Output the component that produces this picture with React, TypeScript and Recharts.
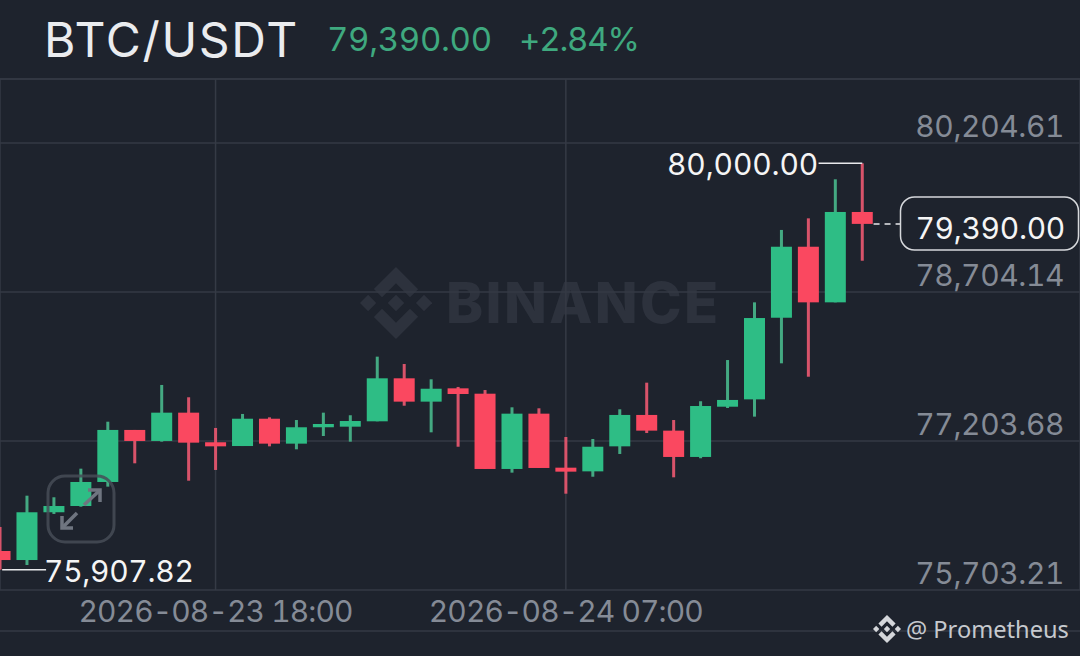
import React from "react";
import {
  Bar,
  CartesianGrid,
  ComposedChart,
  ReferenceLine,
  XAxis,
  YAxis,
} from "recharts";

const opens = [
  76096, 76005, 76486, 76549, 76791, 77315, 77204, 77489, 77191, 77153, 77428,
  77177, 77342, 77348, 77402, 77835, 77600, 77734, 77680, 76922, 77479, 76935,
  76898, 77150, 77466, 77308, 77043, 77549, 77623, 78445, 79160, 78600, 79510,
];
const closes = [
  76005, 76486, 76549, 76791, 77315, 77204, 77489, 77187, 77150, 77428, 77177,
  77342, 77375, 77405, 77835, 77600, 77730, 77677, 76922, 77479, 76932, 76895,
  77146, 77466, 77308, 77043, 77556, 77617, 78442, 79160, 78600, 79510, 79390,
];
const highs = [
  76338, 76653, 76637, 76925, 77398, 77315, 77768, 77644, 77335, 77476, 77442,
  77415, 77489, 77463, 78053, 77979, 77825, 77748, 77717, 77543, 77533, 77244,
  77224, 77523, 77791, 77415, 77604, 78019, 78600, 79329, 79446, 79839, 80000,
];
const lows = [
  75907.82, 75955, 76469, 76542, 76744, 76979, 77197, 76804, 76912, 77153, 77150,
  77120, 77254, 77197, 77402, 77559, 77291, 77146, 76922, 76885, 76932, 76673,
  76844, 77073, 77284, 76838, 77030, 77536, 77449, 77986, 77851, 78600, 79019,
];
const priceTicks = [75703.21, 77203.68, 78704.14, 80204.61];
const timeTicks = [8, 21];
const timeLabels = ["2026-08-23 18:00", "2026-08-24 07:00"];

const lastPrice = 79390;
const maxPrice = 80000;
const minPrice = 75907.82;

const data = opens.map((open, i) => ({
  index: i,
  open,
  close: closes[i],
  high: highs[i],
  low: lows[i],
  range: [lows[i], highs[i]],
}));

const BG = "#1e232d";
const GRID = "#353a45";
const UP = "#2ebd85";
const DOWN = "#fa4860";
const UP_WICK = "#44a982";
const DOWN_WICK = "#d8536a";
const FONT = "Inter, sans-serif";
const tabular: React.CSSProperties = { fontVariantNumeric: "tabular-nums" };

const fmt = (v: number) =>
  v.toLocaleString("en-US", { minimumFractionDigits: 2, maximumFractionDigits: 2 });

const Candle = (props: any) => {
  const { x, y, width, height, payload } = props;
  const { open, close, high, low } = payload;
  const up = close >= open;
  const perUnit = height / (high - low);
  const top = y + (high - Math.max(open, close)) * perUnit;
  const bottom = y + (high - Math.min(open, close)) * perUnit;
  const cx = x + width / 2;
  return (
    <g>
      <rect x={cx - 1.5} y={y} width={3} height={height} fill={up ? UP_WICK : DOWN_WICK} />
      <rect
        x={x}
        y={top}
        width={width}
        height={Math.max(bottom - top, 2)}
        fill={up ? UP : DOWN}
      />
    </g>
  );
};

const Logo = ({ x, y, size, color }: any) => (
  <svg x={x} y={y} width={size} height={size} viewBox="0 0 126.61 126.61" fill={color}>
    <path d="M38.73 53.2 63.3 28.63l24.59 24.59 14.3-14.3L63.3 0 24.43 38.89z" />
    <path d="m0 63.3 14.3-14.3 14.3 14.3-14.3 14.3z" />
    <path d="M38.73 73.41 63.3 97.98l24.59-24.58 14.31 14.29-38.9 38.92-38.87-38.88z" />
    <path d="m98.27 63.31 14.3-14.3 14.3 14.3-14.3 14.3z" />
    <path d="M77.83 63.3 63.3 48.76 52.55 59.51l-1.24 1.24-2.55 2.55 14.54 14.54L77.83 63.3z" />
  </svg>
);

const layer: React.CSSProperties = { position: "absolute", left: 0, top: 0 };

export default function App() {
  return (
    <div
      style={{
        position: "fixed",
        left: 0,
        top: 0,
        width: 1080,
        height: 656,
        background: BG,
        overflow: "hidden",
        fontFamily: FONT,
      }}
    >
      {/* watermark sits under the grid */}
      <svg width={1080} height={656} style={layer}>
        <Logo x={360} y={267} size={72} color="#2d323d" />
        <text
          x={446}
          y={323}
          fontSize={56}
          fontWeight={800}
          fontFamily={FONT}
          fill="#2d323d"
          letterSpacing={2.4}
        >
          BINANCE
        </text>
      </svg>

      <div style={layer}>
        <ComposedChart
          width={1080}
          height={656}
          data={data}
          margin={{ top: 79, right: 0, bottom: 0, left: 0 }}
        >
          <CartesianGrid stroke={GRID} strokeWidth={1.5} />
          <XAxis
            dataKey="index"
            type="number"
            domain={[2.2 / 27, 1082.2 / 27]}
            ticks={timeTicks}
            interval={0}
            height={66}
            axisLine={false}
            tickLine={false}
            tick={(p: any) => (
              <text
                x={p.x}
                y={622}
                textAnchor="middle"
                fontSize={30}
                fontFamily={FONT}
                fill="#858b96"
                letterSpacing={-0.9}
                style={tabular}
              >
                {timeLabels[timeTicks.indexOf(p.payload.value)]}
              </text>
            )}
          />
          <YAxis
            type="number"
            orientation="right"
            mirror
            domain={[75703.21, 80849.11]}
            allowDataOverflow
            ticks={priceTicks}
            interval={0}
            axisLine={false}
            tickLine={false}
            tick={(p: any) => (
              <text
                x={1064}
                y={p.y - 6}
                textAnchor="end"
                fontSize={30}
                fontFamily={FONT}
                fill="#858b96"
                letterSpacing={-0.4}
                style={tabular}
              >
                {fmt(p.payload.value)}
              </text>
            )}
          />
          <ReferenceLine
            ifOverflow="visible"
            stroke="#e8e9ec"
            strokeWidth={1.5}
            segment={[
              { x: 0.08, y: minPrice },
              { x: 1.71, y: minPrice },
            ]}
          />
          <ReferenceLine
            ifOverflow="visible"
            stroke="#e8e9ec"
            strokeWidth={1.5}
            segment={[
              { x: 30.38, y: maxPrice },
              { x: 32, y: maxPrice },
            ]}
          />
          <ReferenceLine
            ifOverflow="visible"
            stroke="#e8e9ec"
            strokeWidth={1.5}
            strokeDasharray="6 5"
            segment={[
              { x: 32.42, y: lastPrice },
              { x: 33.42, y: lastPrice },
            ]}
          />
          <Bar dataKey="range" barSize={21} shape={Candle} isAnimationActive={false} />
        </ComposedChart>
      </div>

      {/* header, captions and the expand button */}
      <svg width={1080} height={656} style={{ ...layer, ...tabular, pointerEvents: "none" }} fontFamily={FONT}>
        <line x1={0} x2={1080} y1={79} y2={79} stroke={GRID} strokeWidth={1.5} />
        <line x1={0} x2={1080} y1={631} y2={631} stroke={GRID} strokeWidth={1.5} />

        <text x={44} y={57} fontSize={48} fill="#eaecef" letterSpacing={1.7}>
          BTC/USDT
        </text>
        <text x={327} y={51} fontSize={33} fill="#3fa97f" letterSpacing={-0.3}>
          {fmt(lastPrice)}
        </text>
        <text x={519} y={51} fontSize={33} fill="#3fa97f" letterSpacing={-1.2}>
          +2.84%
        </text>

        <text x={818} y={175} textAnchor="end" fontSize={30} fill="#f5f5f5" letterSpacing={-0.15}>
          {fmt(maxPrice)}
        </text>
        <text x={44} y={582} fontSize={30} fill="#f5f5f5" letterSpacing={-0.3}>
          {fmt(minPrice)}
        </text>

        <rect x={900.5} y={197} width={178} height={53} rx={14} fill={BG} stroke="#d6d8dc" strokeWidth={1.5} />
        <text x={1065} y={239} textAnchor="end" fontSize={30} fill="#f5f5f5" letterSpacing={-0.3}>
          {fmt(lastPrice)}
        </text>

        <rect x={48} y={476} width={66} height={66} rx={17} fill="none" stroke="#474c57" strokeWidth={3} opacity={0.85} />
        <g stroke="#6f7580" strokeWidth={3.5} fill="none">
          <path d="M84 505 L99 491" />
          <path d="M88 490 L100 490 L100 502" />
          <path d="M77 513 L63 527" />
          <path d="M62 516 L62 528 L73 528" />
        </g>

        <Logo x={873} y={615} size={28} color="#d4d6da" />
        <text x={906} y={638} fontSize={23.6} fontFamily="'Noto Sans', sans-serif" fill="#c6c9ce">
          @ Prometheus
        </text>
      </svg>
    </div>
  );
}
